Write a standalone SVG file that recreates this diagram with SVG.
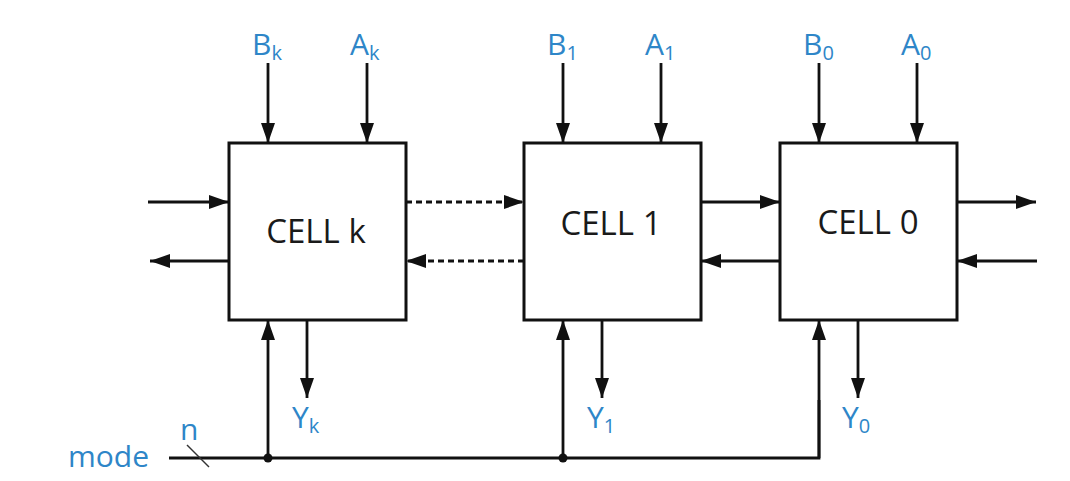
<svg xmlns="http://www.w3.org/2000/svg" width="1070" height="481" viewBox="0 0 1070 481">
<style>
.box{fill:#fff;stroke:#111;stroke-width:3}
.w{stroke:#111;stroke-width:2.8;fill:none}
.a{marker-end:url(#ah)}
.d{stroke-dasharray:6 4}
.cell{font-family:"Open Sans",sans-serif;font-size:33px;fill:#1a1a1a;text-anchor:middle}
.lbl{font-family:"Open Sans",sans-serif;font-size:30px;fill:#2e86c8}
.sub{font-size:20px}
</style>
<defs>
<marker id="ah" markerUnits="userSpaceOnUse" markerWidth="20" markerHeight="14" refX="20" refY="7" orient="auto">
<path d="M0,0 L20,7 L0,14 z" fill="#111"/>
</marker>
</defs>
<rect width="1070" height="481" fill="#fff"/>
<g id="connectors">
<line class="w a" x1="268" y1="63" x2="268" y2="143"/>
<line class="w a" x1="367" y1="63" x2="367" y2="143"/>
<line class="w a" x1="563" y1="63" x2="563" y2="143"/>
<line class="w a" x1="661" y1="63" x2="661" y2="143"/>
<line class="w a" x1="819" y1="63" x2="819" y2="143"/>
<line class="w a" x1="917" y1="63" x2="917" y2="143"/>
<line class="w a" x1="148" y1="202" x2="229" y2="202"/>
<line class="w a" x1="229" y1="261" x2="150" y2="261"/>
<line class="w a d" x1="406" y1="202" x2="524" y2="202"/>
<line class="w a d" x1="524" y1="261" x2="406" y2="261"/>
<line class="w a" x1="701" y1="202" x2="780" y2="202"/>
<line class="w a" x1="780" y1="261" x2="701" y2="261"/>
<line class="w a" x1="957" y1="202" x2="1036" y2="202"/>
<line class="w a" x1="1037" y1="261" x2="957" y2="261"/>
<line class="w a" x1="307" y1="320" x2="307" y2="398"/>
<line class="w a" x1="602" y1="320" x2="602" y2="398"/>
<line class="w a" x1="858" y1="320" x2="858" y2="398"/>
<polyline class="w" points="169,458 819,458 819,400"/>
<line class="w a" x1="819" y1="458" x2="819" y2="320"/>
<line class="w a" x1="268" y1="458" x2="268" y2="320"/>
<line class="w a" x1="563" y1="458" x2="563" y2="320"/>
<line stroke="#333" stroke-width="1.5" x1="187" y1="445" x2="209" y2="467"/>
<circle cx="268" cy="458" r="4.5" fill="#111"/>
<circle cx="563" cy="458" r="4.5" fill="#111"/>
</g>
<g id="cellk">
<rect class="box" x="229" y="143" width="177" height="177"/>
<text class="cell" x="316" y="243">CELL k</text>
</g>
<g id="cell1">
<rect class="box" x="524" y="143" width="177" height="177"/>
<text class="cell" x="611" y="235">CELL 1</text>
</g>
<g id="cell0">
<rect class="box" x="780" y="143" width="177" height="177"/>
<text class="cell" x="868" y="234">CELL 0</text>
</g>
<g id="labels">
<text class="lbl" x="252" y="55">B<tspan class="sub" dy="5">k</tspan></text>
<text class="lbl" x="350" y="55">A<tspan class="sub" dy="5">k</tspan></text>
<text class="lbl" x="547" y="55">B<tspan class="sub" dy="5">1</tspan></text>
<text class="lbl" x="645" y="55">A<tspan class="sub" dy="5">1</tspan></text>
<text class="lbl" x="803" y="55">B<tspan class="sub" dy="5">0</tspan></text>
<text class="lbl" x="901" y="55">A<tspan class="sub" dy="5">0</tspan></text>
<text class="lbl" x="292" y="428">Y<tspan class="sub" dy="5">k</tspan></text>
<text class="lbl" x="587" y="428">Y<tspan class="sub" dy="5">1</tspan></text>
<text class="lbl" x="842" y="428">Y<tspan class="sub" dy="5">0</tspan></text>
<text class="lbl" x="68" y="467">mode</text>
<text class="lbl" x="180" y="440">n</text>
</g>
</svg>
